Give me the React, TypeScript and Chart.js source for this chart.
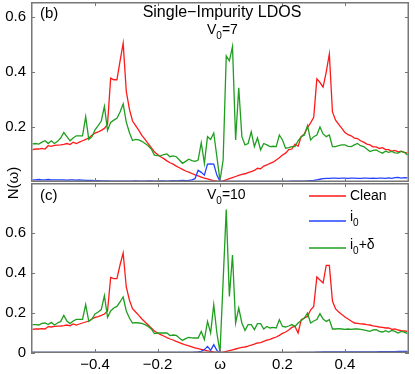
import React, { useEffect, useRef } from "react";
import { Chart, registerables } from "chart.js";

Chart.register(...registerables);

// ---------- data ----------
const OMEGA = [
  -0.60, -0.59, -0.58, -0.57, -0.56, -0.55, -0.54, -0.53, -0.52, -0.51,
  -0.50, -0.49, -0.48, -0.47, -0.46, -0.45, -0.44, -0.43, -0.42, -0.41,
  -0.40, -0.39, -0.38, -0.37, -0.36, -0.35, -0.34, -0.33, -0.32, -0.31,
  -0.30, -0.29, -0.28, -0.27, -0.26, -0.25, -0.24, -0.23, -0.22, -0.21,
  -0.20, -0.19, -0.18, -0.17, -0.16, -0.15, -0.14, -0.13, -0.12, -0.11,
  -0.10, -0.09, -0.08, -0.07, -0.06, -0.05, -0.04, -0.03, -0.02, -0.01,
  0.00, 0.01, 0.02, 0.03, 0.04, 0.05, 0.06, 0.07, 0.08, 0.09,
  0.10, 0.11, 0.12, 0.13, 0.14, 0.15, 0.16, 0.17, 0.18, 0.19,
  0.20, 0.21, 0.22, 0.23, 0.24, 0.25, 0.26, 0.27, 0.28, 0.29,
  0.30, 0.31, 0.32, 0.33, 0.34, 0.35, 0.36, 0.37, 0.38, 0.39,
  0.40, 0.41, 0.42, 0.43, 0.44, 0.45, 0.46, 0.47, 0.48, 0.49,
  0.50, 0.51, 0.52, 0.53, 0.54, 0.55, 0.56, 0.57, 0.58, 0.59,
  0.60,
];

// panel (b): V0 = 7
const CLEAN_B = [
  0.118, 0.120, 0.120, 0.122, 0.120, 0.132, 0.130, 0.133, 0.134, 0.135,
  0.137, 0.140, 0.136, 0.145, 0.140, 0.145, 0.150, 0.155, 0.160, 0.170,
  0.178, 0.182, 0.188, 0.195, 0.210, 0.378, 0.372, 0.372, 0.440, 0.505,
  0.330, 0.265, 0.222, 0.205, 0.188, 0.170, 0.155, 0.140, 0.125, 0.110,
  0.100, 0.092, 0.085, 0.077, 0.070, 0.065, 0.058, 0.052, 0.046, 0.040,
  0.036, 0.031, 0.026, 0.022, 0.018, 0.014, 0.011, 0.008, 0.005, 0.003,
  0.000, 0.004, 0.008, 0.012, 0.016, 0.020, 0.024, 0.028, 0.030, 0.034,
  0.038, 0.042, 0.050, 0.048, 0.058, 0.062, 0.068, 0.072, 0.080, 0.088,
  0.098, 0.105, 0.118, 0.120, 0.138, 0.130, 0.165, 0.175, 0.198, 0.215,
  0.235, 0.375, 0.362, 0.345, 0.400, 0.466, 0.255, 0.225, 0.210, 0.195,
  0.180, 0.172, 0.168, 0.160, 0.158, 0.150, 0.145, 0.138, 0.135, 0.128,
  0.128, 0.122, 0.125, 0.118, 0.118, 0.112, 0.115, 0.110, 0.112, 0.108,
  0.105,
];
const I0_B = [
  0.008, 0.008, 0.009, 0.008, 0.008, 0.009, 0.008, 0.008, 0.008, 0.008,
  0.008, 0.007, 0.008, 0.008, 0.007, 0.008, 0.007, 0.006, 0.006, 0.006,
  0.005, 0.005, 0.004, 0.004, 0.004, 0.003, 0.003, 0.003, 0.003, 0.003,
  0.003, 0.003, 0.003, 0.004, 0.003, 0.003, 0.003, 0.004, 0.004, 0.003,
  0.003, 0.004, 0.004, 0.003, 0.004, 0.005, 0.004, 0.005, 0.006, 0.005,
  0.006, 0.008, 0.012, 0.043, 0.035, 0.025, 0.065, 0.066, 0.065, 0.025,
  0.002, 0.002, 0.002, 0.002, 0.002, 0.002, 0.002, 0.002, 0.002, 0.002,
  0.002, 0.002, 0.002, 0.002, 0.002, 0.002, 0.002, 0.002, 0.002, 0.002,
  0.002, 0.002, 0.002, 0.003, 0.003, 0.003, 0.003, 0.003, 0.004, 0.005,
  0.006, 0.008, 0.010, 0.012, 0.013, 0.013, 0.014, 0.014, 0.013, 0.014,
  0.014, 0.013, 0.014, 0.014, 0.013, 0.013, 0.014, 0.014, 0.013, 0.014,
  0.013, 0.014, 0.014, 0.013, 0.015, 0.013, 0.016, 0.017, 0.014, 0.016,
  0.015,
];
const IMP_B = [
  0.139, 0.140, 0.138, 0.145, 0.150, 0.140, 0.150, 0.140, 0.148, 0.160,
  0.180, 0.165, 0.150, 0.160, 0.168, 0.168, 0.168, 0.238, 0.155, 0.165,
  0.190, 0.205, 0.222, 0.275, 0.188, 0.217, 0.225, 0.232, 0.255, 0.284,
  0.218, 0.180, 0.151, 0.155, 0.153, 0.148, 0.140, 0.132, 0.120, 0.098,
  0.096, 0.095, 0.100, 0.102, 0.092, 0.095, 0.092, 0.080, 0.068, 0.075,
  0.083, 0.078, 0.075, 0.080, 0.143, 0.068, 0.165, 0.155, 0.178, 0.092,
  0.005, 0.080, 0.459, 0.441, 0.493, 0.153, 0.343, 0.165, 0.135, 0.140,
  0.183, 0.129, 0.160, 0.117, 0.140, 0.135, 0.129, 0.130, 0.129, 0.171,
  0.153, 0.123, 0.125, 0.129, 0.129, 0.150, 0.165, 0.171, 0.205, 0.153,
  0.165, 0.171, 0.200, 0.175, 0.165, 0.171, 0.129, 0.129, 0.132, 0.135,
  0.135, 0.130, 0.129, 0.135, 0.140, 0.132, 0.129, 0.120, 0.111, 0.115,
  0.117, 0.110, 0.105, 0.112, 0.108, 0.111, 0.106, 0.105, 0.111, 0.108,
  0.098,
];

// panel (c): V0 = 10
const CLEAN_C = [
  0.118, 0.120, 0.120, 0.122, 0.120, 0.132, 0.130, 0.133, 0.134, 0.135,
  0.137, 0.140, 0.136, 0.145, 0.140, 0.145, 0.150, 0.155, 0.160, 0.170,
  0.178, 0.182, 0.188, 0.195, 0.210, 0.378, 0.372, 0.372, 0.440, 0.500,
  0.330, 0.265, 0.222, 0.205, 0.188, 0.170, 0.155, 0.140, 0.125, 0.110,
  0.100, 0.092, 0.085, 0.077, 0.070, 0.065, 0.058, 0.052, 0.046, 0.040,
  0.036, 0.031, 0.026, 0.022, 0.018, 0.014, 0.011, 0.008, 0.005, 0.003,
  0.000, 0.004, 0.008, 0.012, 0.016, 0.020, 0.024, 0.028, 0.030, 0.034,
  0.040, 0.044, 0.050, 0.052, 0.058, 0.064, 0.068, 0.074, 0.080, 0.088,
  0.098, 0.105, 0.115, 0.128, 0.133, 0.100, 0.167, 0.175, 0.183, 0.215,
  0.233, 0.380, 0.365, 0.350, 0.438, 0.438, 0.260, 0.220, 0.205, 0.192,
  0.180, 0.170, 0.160, 0.150, 0.148, 0.146, 0.145, 0.142, 0.140, 0.136,
  0.133, 0.130, 0.128, 0.125, 0.125, 0.118, 0.120, 0.115, 0.112, 0.110,
  0.108,
];
const I0_C = [
  0.003, 0.003, 0.003, 0.003, 0.003, 0.003, 0.003, 0.003, 0.003, 0.003,
  0.003, 0.003, 0.003, 0.003, 0.003, 0.003, 0.003, 0.003, 0.003, 0.003,
  0.003, 0.003, 0.003, 0.003, 0.003, 0.003, 0.003, 0.003, 0.003, 0.003,
  0.003, 0.003, 0.003, 0.003, 0.003, 0.003, 0.003, 0.003, 0.003, 0.003,
  0.003, 0.003, 0.003, 0.003, 0.003, 0.003, 0.003, 0.003, 0.003, 0.003,
  0.003, 0.003, 0.004, 0.005, 0.008, 0.017, 0.033, 0.013, 0.042, 0.013,
  0.000, 0.002, 0.002, 0.002, 0.002, 0.002, 0.002, 0.002, 0.002, 0.002,
  0.002, 0.002, 0.002, 0.002, 0.002, 0.002, 0.002, 0.002, 0.002, 0.002,
  0.002, 0.002, 0.002, 0.002, 0.002, 0.003, 0.003, 0.003, 0.003, 0.003,
  0.003, 0.004, 0.004, 0.005, 0.005, 0.005, 0.006, 0.006, 0.006, 0.006,
  0.006, 0.006, 0.006, 0.006, 0.006, 0.006, 0.006, 0.006, 0.006, 0.006,
  0.006, 0.007, 0.007, 0.007, 0.007, 0.007, 0.007, 0.008, 0.008, 0.008,
  0.008,
];
const IMP_C = [
  0.142, 0.142, 0.140, 0.148, 0.150, 0.142, 0.153, 0.140, 0.150, 0.158,
  0.188, 0.160, 0.147, 0.160, 0.168, 0.168, 0.168, 0.242, 0.158, 0.170,
  0.195, 0.205, 0.217, 0.287, 0.178, 0.210, 0.225, 0.233, 0.255, 0.280,
  0.210, 0.175, 0.150, 0.152, 0.150, 0.148, 0.142, 0.133, 0.120, 0.097,
  0.100, 0.100, 0.100, 0.100, 0.087, 0.090, 0.088, 0.075, 0.063, 0.072,
  0.078, 0.076, 0.075, 0.075, 0.108, 0.067, 0.158, 0.100, 0.242, 0.100,
  0.003, 0.360, 0.717, 0.283, 0.490, 0.150, 0.225, 0.150, 0.113, 0.142,
  0.142, 0.117, 0.147, 0.147, 0.120, 0.133, 0.125, 0.128, 0.125, 0.167,
  0.133, 0.130, 0.135, 0.142, 0.133, 0.150, 0.163, 0.175, 0.200, 0.150,
  0.160, 0.167, 0.197, 0.170, 0.158, 0.167, 0.120, 0.120, 0.122, 0.120,
  0.118, 0.120, 0.118, 0.120, 0.120, 0.118, 0.116, 0.112, 0.108, 0.115,
  0.117, 0.108, 0.105, 0.112, 0.105, 0.113, 0.108, 0.100, 0.108, 0.104,
  0.097,
];

const X_MIN = -0.605;
const X_MAX = 0.605;
const X_TICKS = [-0.4, -0.2, 0, 0.2, 0.4];
const X_TICK_LABELS = ["\u22120.4", "\u22120.2", "\u03c9", "0.2", "0.4"];
const Y_MAX_B = 0.655;
const Y_MAX_C = 0.85;
const Y_TICKS_B = [0.2, 0.4, 0.6];
const Y_TICKS_C = [0, 0.2, 0.4, 0.6];
const Y_TICK_LABELS_B = ["0.2", "0.4", "0.6"];
const Y_TICK_LABELS_C = ["0", "0.2", "0.4", "0.6"];

const SERIES_NAMES = ["Clean", "i0", "i0+\u03b4"];
const TITLE = "Single\u2212Impurity LDOS";
const Y_TITLE = "N(\u03c9)";

const RED = "#ff1a1a";
const BLUE = "#2443ff";
const GREEN = "#1f9e1f";
const FRAME = "#777777";
const FONT = '"Liberation Sans", Arial, Helvetica, sans-serif';

type Part = { t: string; sub?: boolean };

function drawRich(ctx: CanvasRenderingContext2D, parts: Part[], x: number, y: number, size: number) {
  let cx = x;
  ctx.textAlign = "left";
  ctx.textBaseline = "middle";
  for (const p of parts) {
    const s = p.sub ? Math.round(size * 0.72) : size;
    ctx.font = `${s}px ${FONT}`;
    ctx.fillText(p.t, cx, p.sub ? y + size * 0.42 : y);
    cx += ctx.measureText(p.t).width;
  }
}

function drawFrame(chart: any) {
  const ctx: CanvasRenderingContext2D = chart.ctx;
  const a = chart.chartArea;
  const xs = chart.scales.x;
  const ys = chart.scales.y;
  ctx.save();
  ctx.strokeStyle = FRAME;
  ctx.lineWidth = 1.5;
  ctx.strokeRect(a.left + 0.75, a.top + 0.75, a.right - a.left - 1.5, a.bottom - a.top - 1.5);
  ctx.lineWidth = 1;
  const L = 4;
  ctx.beginPath();
  for (const v of X_TICKS) {
    const px = Math.round(xs.getPixelForValue(v)) + 0.5;
    ctx.moveTo(px, a.bottom);
    ctx.lineTo(px, a.bottom - L);
    ctx.moveTo(px, a.top);
    ctx.lineTo(px, a.top + L);
  }
  for (const t of ys.ticks) {
    const py = Math.round(ys.getPixelForValue(t.value)) + 0.5;
    ctx.moveTo(a.left, py);
    ctx.lineTo(a.left + L, py);
    ctx.moveTo(a.right, py);
    ctx.lineTo(a.right - L, py);
  }
  ctx.stroke();
  ctx.restore();
}

function makeOverlayPlugin(panel: "b" | "c") {
  return {
    id: "overlay" + panel,
    afterDraw(chart: any) {
      drawFrame(chart);
      const ctx: CanvasRenderingContext2D = chart.ctx;
      ctx.save();
      ctx.fillStyle = "#000";
      if (panel === "b") {
        drawRich(ctx, [{ t: "(b)" }], 40, 14, 15);
        ctx.font = `16px ${FONT}`;
        ctx.textAlign = "center";
        ctx.textBaseline = "middle";
        ctx.fillText(TITLE, 222, 13);
        drawRich(ctx, [{ t: "V" }, { t: "0", sub: true }, { t: "=7" }], 207, 30, 14);
      } else {
        drawRich(ctx, [{ t: "(c)" }], 40, 14, 15);
        drawRich(ctx, [{ t: "V" }, { t: "0", sub: true }, { t: "=10" }], 207, 13, 14);
        const colors = [RED, BLUE, GREEN];
        const ys = [14, 39, 66];
        const labelParts: Part[][] = [
          [{ t: SERIES_NAMES[0] }],
          [{ t: "i" }, { t: "0", sub: true }],
          [{ t: "i" }, { t: "0", sub: true }, { t: "+\u03b4" }],
        ];
        const textDy = [0, -4, -3];
        for (let i = 0; i < 3; i++) {
          ctx.strokeStyle = colors[i];
          ctx.lineWidth = 1.5;
          ctx.beginPath();
          ctx.moveTo(309, ys[i]);
          ctx.lineTo(346, ys[i]);
          ctx.stroke();
          drawRich(ctx, labelParts[i], 350, ys[i] + textDy[i], 14);
        }
      }
      ctx.restore();
    },
  };
}

function datasetsFor(clean: number[], i0: number[], imp: number[]) {
  const mk = (arr: number[]) => OMEGA.map((x, i) => ({ x, y: arr[i] }));
  const common = { pointRadius: 0, borderWidth: 1.3, tension: 0, fill: false };
  return [
    { label: SERIES_NAMES[2], data: mk(imp), borderColor: GREEN, ...common },
    { label: SERIES_NAMES[1], data: mk(i0), borderColor: BLUE, ...common },
    { label: SERIES_NAMES[0], data: mk(clean), borderColor: RED, ...common },
  ];
}

const zeroPad = (s: any) => {
  s.paddingTop = 0;
  s.paddingBottom = 0;
  s.paddingLeft = 0;
  s.paddingRight = 0;
};

export default function App() {
  const topRef = useRef<HTMLCanvasElement | null>(null);
  const botRef = useRef<HTMLCanvasElement | null>(null);

  useEffect(() => {
    const tickFont = { family: FONT, size: 15 };
    const top = new Chart(topRef.current as HTMLCanvasElement, {
      type: "line",
      data: { datasets: datasetsFor(CLEAN_B, I0_B, IMP_B) as any },
      options: {
        responsive: false,
        animation: false,
        devicePixelRatio: 1,
        layout: { padding: { left: 0, right: 6, top: 2, bottom: 1 } },
        plugins: { legend: { display: false }, tooltip: { enabled: false } },
        scales: {
          x: { type: "linear", min: X_MIN, max: X_MAX, display: false },
          y: {
            type: "linear",
            min: 0,
            max: Y_MAX_B,
            afterBuildTicks: (s: any) => {
              s.ticks = Y_TICKS_B.map((v) => ({ value: v }));
            },
            afterFit: (s: any) => {
              s.width = 31;
              zeroPad(s);
            },
            grid: { display: false, drawTicks: false },
            border: { display: false },
            ticks: {
              padding: 5,
              color: "#000",
              font: tickFont,
              callback: (v: any) => Y_TICK_LABELS_B[Y_TICKS_B.indexOf(Number(v))] ?? "",
            },
          },
        },
      } as any,
      plugins: [makeOverlayPlugin("b")],
    });

    const bot = new Chart(botRef.current as HTMLCanvasElement, {
      type: "line",
      data: { datasets: datasetsFor(CLEAN_C, I0_C, IMP_C) as any },
      options: {
        responsive: false,
        animation: false,
        devicePixelRatio: 1,
        layout: { padding: { left: 0, right: 6, top: 1, bottom: 0 } },
        plugins: { legend: { display: false }, tooltip: { enabled: false } },
        scales: {
          x: {
            type: "linear",
            min: X_MIN,
            max: X_MAX,
            afterBuildTicks: (s: any) => {
              s.ticks = X_TICKS.map((v) => ({ value: v }));
            },
            afterFit: (s: any) => {
              s.height = 21;
              zeroPad(s);
            },
            grid: { display: false, drawTicks: false },
            border: { display: false },
            ticks: {
              padding: 3,
              color: "#000",
              font: tickFont,
              maxRotation: 0,
              autoSkip: false,
              callback: (v: any) => X_TICK_LABELS[X_TICKS.indexOf(Number(v))] ?? "",
            },
          },
          y: {
            type: "linear",
            min: 0,
            max: Y_MAX_C,
            afterBuildTicks: (s: any) => {
              s.ticks = Y_TICKS_C.map((v) => ({ value: v }));
            },
            afterFit: (s: any) => {
              s.width = 31;
              zeroPad(s);
            },
            grid: { display: false, drawTicks: false },
            border: { display: false },
            ticks: {
              padding: 5,
              color: "#000",
              font: tickFont,
              callback: (v: any) => Y_TICK_LABELS_C[Y_TICKS_C.indexOf(Number(v))] ?? "",
            },
          },
        },
      } as any,
      plugins: [makeOverlayPlugin("c")],
    });

    return () => {
      top.destroy();
      bot.destroy();
    };
  }, []);

  return (
    <div style={{ position: "absolute", left: 0, top: 0, width: 415, height: 374, background: "#fff", overflow: "hidden" }}>
      <canvas ref={topRef} width={415} height={183} style={{ position: "absolute", left: 0, top: 0, width: 415, height: 183 }} />
      <canvas ref={botRef} width={415} height={192} style={{ position: "absolute", left: 0, top: 182, width: 415, height: 192 }} />
      <div
        style={{
          position: "absolute",
          left: -7.5,
          top: 172.5,
          width: 40,
          height: 20,
          lineHeight: "20px",
          textAlign: "center",
          fontFamily: FONT,
          fontSize: 15,
          color: "#000",
          transform: "rotate(-90deg)",
        }}
      >
        {Y_TITLE}
      </div>
    </div>
  );
}
